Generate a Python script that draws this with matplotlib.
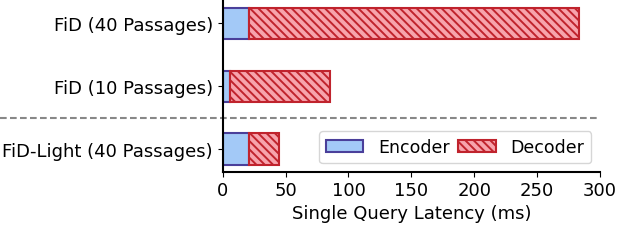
import matplotlib
matplotlib.use("Agg")
import matplotlib.pyplot as plt
import numpy as np

categories = ["FiD-Light (40 Passages)", "FiD (10 Passages)", "FiD (40 Passages)"]
encoder = [21, 5.5, 21]
decoder = [24, 80, 262.5]
xticks = [0, 50, 100, 150, 200, 250, 300]

plt.rcParams['font.family'] = ['DejaVu Sans']
plt.rcParams['font.size'] = 13
plt.rcParams['hatch.color'] = '#c0232d'
plt.rcParams['hatch.linewidth'] = 1.4

BS = chr(92)

fig = plt.figure(figsize=(6.4, 2.51), dpi=100)
ax = fig.add_axes([0.348, 0.312, 0.5895, 0.688])

y = np.arange(len(categories))
ax.barh(y, encoder, height=0.5, color='#a3c9f7', edgecolor='#4a3f9a',
        linewidth=1.5, label='Encoder')
ax.barh(y, decoder, left=encoder, height=0.5, color='#f7a3ac', edgecolor='#c0232d',
        linewidth=1.5, hatch=BS * 4, label='Decoder')

ax.set_yticks(y)
ax.set_yticklabels(categories)
ax.set_xticks(xticks)
ax.set_xlim(0, 300)
ax.set_ylim(-0.36, 2.39)
ax.set_xlabel("Single Query Latency (ms)", labelpad=3)
for s in ['top', 'right']:
    ax.spines[s].set_visible(False)
for s in ['left', 'bottom']:
    ax.spines[s].set_linewidth(1.5)

ax.axhline(0.5, xmin=-0.59, xmax=1.0, color='#888888', linestyle='--',
           linewidth=1.5, clip_on=False, dashes=(3.2, 1.6))

ax.legend(loc='lower right', ncol=2, handlelength=2.15, handletextpad=0.85,
          columnspacing=0.5, fontsize=12.5)

fig.savefig("out.png", dpi=100)
